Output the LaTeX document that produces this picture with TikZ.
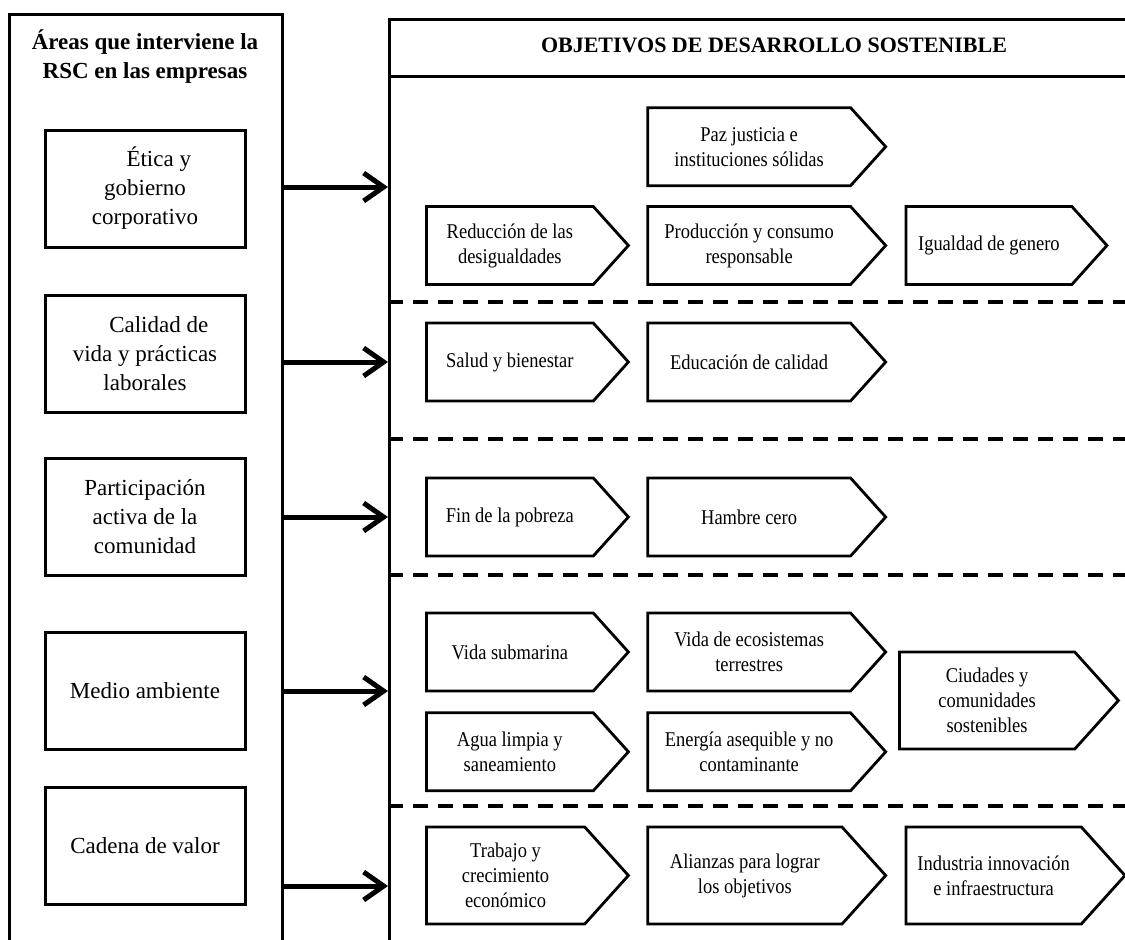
\documentclass[tikz,border=0pt]{standalone}
\usepackage{fontspec}
\setmainfont{Liberation Serif}
\newfontfamily\narrowserif[FakeStretch=0.88]{Liberation Serif}
\usetikzlibrary{positioning,shapes.symbols,arrows.meta}

\tikzset{
	area/.style={draw, line width=3pt, minimum width=200pt, minimum height=117pt, inner sep=0pt, align=center, font=\fontsize{23}{29}\selectfont},
	goal/.style={signal, signal to=east, signal pointer angle=96, draw, line width=2.8pt, minimum height=78pt, inner sep=2pt, align=center, font=\narrowserif\fontsize{21}{25}\selectfont},
	goal1/.style={goal, minimum width=202pt},
	goal2/.style={goal, minimum width=238pt},
	goal3/.style={goal, minimum width=219pt},
	tall/.style={minimum height=97pt},
	link/.style={-{Straight Barb[length=20pt,width=28pt]}, line width=5pt},
	sepline/.style={dash pattern=on 15pt off 10pt, line width=4pt}
}

\begin{document}
\begin{tikzpicture}[x=1pt,y=-1pt]
		\useasboundingbox (0,0) rectangle (1125,940);
		\clip (0,0) rectangle (1125,940);
		% marcos
		\node(areas) [draw, line width=3pt, anchor=north west, minimum width=273pt, minimum height=980pt] at (8,13) {};
		\node(ods) [draw, line width=3pt, anchor=north west, minimum width=780pt, minimum height=980pt] at (388,18) {};
		\coordinate (hd) at (0,76);
		\draw[line width=3pt] (ods.west |- hd) -- (ods.east |- hd);
		\node(t1) [align=center, font=\bfseries\fontsize{23}{29}\selectfont] at (145,57) {Áreas que interviene la\\RSC en las empresas};
		\node(t2) [font=\bfseries\fontsize{22}{27}\selectfont] at (774,45) {OBJETIVOS DE DESARROLLO SOSTENIBLE};
		% areas
		\node(a1) [area] at (145,188.5) {\hspace*{1.2em}Ética y\\gobierno\\corporativo};
		\node(a2) [area] at (145,353.5) {\hspace*{1.2em}Calidad de\\vida y prácticas\\laborales};
		\node(a3) [area] at (145,517) {Participación\\activa de la\\comunidad};
		\node(a4) [area] at (145,691) {Medio ambiente};
		\node(a5) [area] at (145,846) {Cadena de valor};
		% flechas
		\foreach \n/\y in {1/187,2/362,3/517,4/691,5/886}{
			\coordinate (y\n) at (0,\y);
			\draw[link] (areas.east |- y\n) -- (ods.west |- y\n);
		}
		% separadores
		\foreach \y in {302,439,575,806}{
			\coordinate (s) at (0,\y);
			\draw[sepline] (ods.west |- s) -- (ods.east |- s);
		}
		% objetivos
		\node(red) [goal1, anchor=west] at (425,245.5) {Reducción de las\\desigualdades};
		\node(prod) [goal2, right=16pt of red] {Producción y consumo\\responsable};
		\node(paz) [goal2, above=18pt of prod] {Paz justicia e\\instituciones sólidas};
		\node(igual) [goal, minimum width=201pt, right=17pt of prod] {Igualdad de genero};
		\node(salud) [goal1, anchor=west] at (425,362) {Salud y bienestar};
		\node(edu) [goal2, right=16pt of salud] {Educación de calidad};
		\node(fin) [goal1, anchor=west] at (425,517) {Fin de la pobreza};
		\node(hambre) [goal2, right=16pt of fin] {Hambre cero};
		\node(sub) [goal1, anchor=west] at (425,652) {Vida submarina};
		\node(eco) [goal2, right=16pt of sub] {Vida de ecosistemas\\terrestres};
		\node(agua) [goal1, below=19pt of sub] {Agua limpia y\\saneamiento};
		\node(ener) [goal2, right=16pt of agua] {Energía asequible y no\\contaminante};
		\node(ciud) [goal3, tall, anchor=west] at (898,700.5) {Ciudades y\\comunidades\\sostenibles};
		\node(trab) [goal1, tall, anchor=west] at (425,875.5) {Trabajo y\\crecimiento\\económico};
		\node(ali) [goal2, tall, right=16pt of trab] {Alianzas para lograr\\los objetivos};
		\node(ind) [goal3, tall, right=17pt of ali] {Industria innovación\\e infraestructura};
	\end{tikzpicture}
\end{document}
